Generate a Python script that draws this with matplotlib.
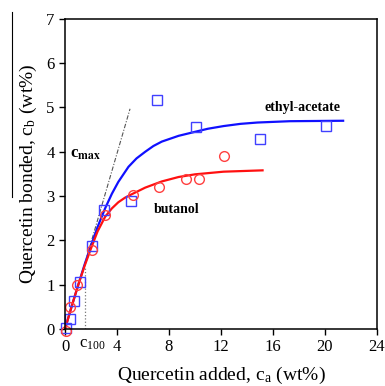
# Quercetin bonded vs added, ethyl-acetate and butanol

import numpy as np
import matplotlib.pyplot as plt
from matplotlib.lines import Line2D

plt.rcParams['font.family'] = 'Liberation Serif'
plt.rcParams['mathtext.fontset'] = 'stix'

# measured points
ea_x = [0.05, 0.38, 0.72, 1.15, 2.1, 3.0, 5.1, 7.05, 10.1, 15.0, 20.1]
ea_y = [0.02, 0.23, 0.63, 1.06, 1.88, 2.68, 2.89, 5.16, 4.55, 4.28, 4.59]
bu_x = [0.1, 0.38, 0.9, 2.1, 3.1, 5.2, 7.25, 9.3, 10.3, 12.25]
bu_y = [-0.05, 0.5, 1.0, 1.78, 2.57, 3.03, 3.21, 3.38, 3.38, 3.9]

# fitted curves
ea_fit_x = [0, 0.5, 1.0, 1.5, 2.0, 2.5, 3.08, 3.6, 4.1, 4.88, 5.5, 6.17, 6.8, 7.45, 8.74, 10.0, 11.0, 12.2, 13.5, 14.8, 17.3, 21.4]
ea_fit_y = [0, 0.5, 0.98, 1.45, 1.88, 2.3, 2.72, 3.05, 3.32, 3.66, 3.85, 4.0, 4.13, 4.23, 4.36, 4.45, 4.52, 4.58, 4.63, 4.66, 4.69, 4.7]
bu_fit_x = [0, 0.5, 1.0, 1.5, 2.0, 2.5, 3.08, 3.6, 4.1, 4.6, 5.13, 6.17, 7.45, 8.74, 10.0, 12.2, 15.2]
bu_fit_y = [0, 0.5, 0.98, 1.42, 1.82, 2.2, 2.53, 2.72, 2.86, 2.96, 3.04, 3.19, 3.33, 3.43, 3.49, 3.55, 3.58]

# c_max tangent and c_100 marker
cmax_x = [1.5, 5.0]
cmax_y = [1.45, 4.97]
c100_x = [1.5, 1.5]
c100_y = [0, 1.4]

xticks = [0, 4, 8, 12, 16, 20, 24]
yticks = [0, 1, 2, 3, 4, 5, 6, 7]

fig = plt.figure(figsize=(3.85, 3.86), dpi=100)
ax = fig.add_axes([0.169, 0.148, 0.81, 0.803])

ax.plot(cmax_x, cmax_y, color='#555555', ls=(0, (4, 1.5, 1, 1.5)), lw=0.8)
ax.plot(c100_x, c100_y, color='#777777', ls=':', lw=0.9)

ax.plot(ea_fit_x, ea_fit_y, color='#1010ff', lw=1.6)
ax.plot(bu_fit_x, bu_fit_y, color='#ff1010', lw=1.6)

ax.plot(ea_x, ea_y, 's', mfc='none', mec='#4040ff', ms=7, mew=1.0, clip_on=False)
ax.plot(bu_x, bu_y, 'o', mfc='none', mec='#ff4040', ms=7, mew=1.0, clip_on=False)

ax.text(18.3, 4.99, 'ethyl-acetate', fontsize=10, fontweight='bold', ha='center', va='center')
ax.text(8.6, 2.69, 'butanol', fontsize=10, fontweight='bold', ha='center', va='center')
ax.text(0.4, 3.96, r'c$_{\mathbf{max}}$', fontsize=12, fontweight='bold', ha='left', va='center')
ax.text(1.1, -0.35, r'c$_{\mathregular{100}}$', fontsize=12, ha='left', va='center')

ax.set_xlim(0, 24)
ax.set_ylim(0, 7)
ax.set_xticks(xticks)
ax.set_yticks(yticks)
ax.tick_params(axis='both', labelsize=12, direction='out', length=4, width=1)
for s in ax.spines.values():
    s.set_linewidth(1.1)

ax.set_xlabel(r'Quercetin added, c$_\mathregular{a}$ (wt%)', fontsize=14, labelpad=7)
ax.set_ylabel(r'Quercetin bonded, c$_\mathregular{b}$ (wt%)', fontsize=14, labelpad=5)

# stray vertical line at the left edge of the original scan
fig.add_artist(Line2D([12/385, 12/385], [1 - 12/386, 1 - 197/386], color='black', lw=0.8))

plt.savefig('out.png', dpi=100)
